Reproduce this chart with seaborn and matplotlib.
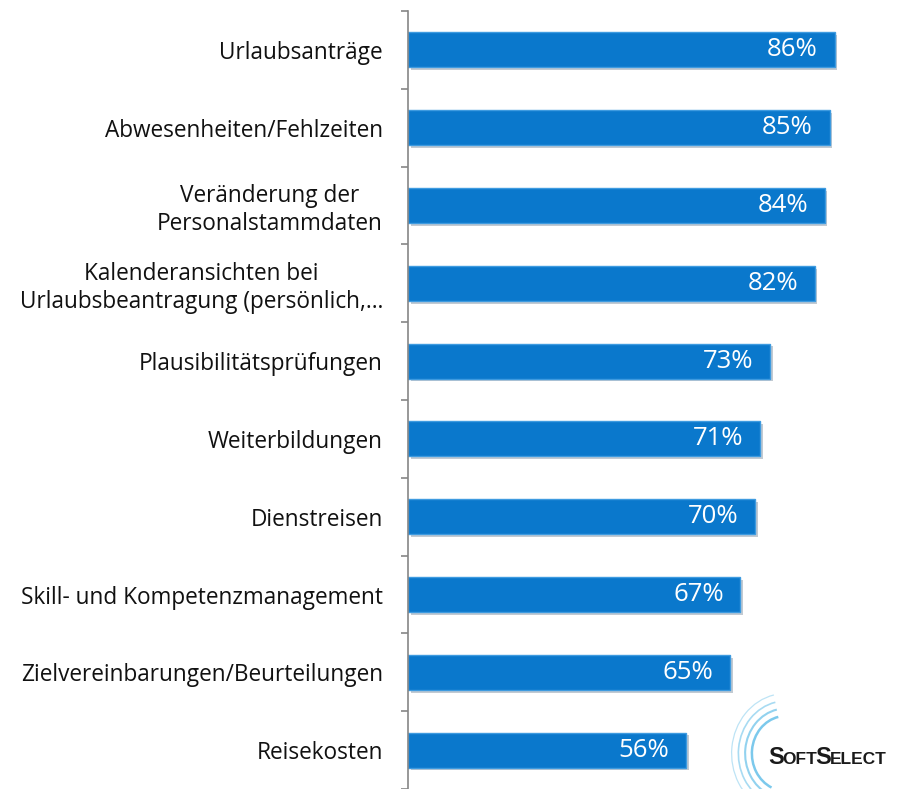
import matplotlib
matplotlib.use("Agg")
import matplotlib.pyplot as plt
import matplotlib.patheffects as pe
from matplotlib.patches import Arc
import pandas as pd
import seaborn as sns

# ---------------------------------
# DATA
# ---------------------------------

categories = [
    "Urlaubsanträge",
    "Abwesenheiten/Fehlzeiten",
    "Veränderung der\nPersonalstammdaten",
    "Kalenderansichten bei\nUrlaubsbeantragung (persönlich,…",
    "Plausibilitätsprüfungen",
    "Weiterbildungen",
    "Dienstreisen",
    "Skill- und Kompetenzmanagement",
    "Zielvereinbarungen/Beurteilungen",
    "Reisekosten",
]
values = [86, 85, 84, 82, 73, 71, 70, 67, 65, 56]

df = pd.DataFrame({"Kategorie": categories, "Anteil": values})

# ---------------------------------
# STYLE
# ---------------------------------

sns.set_style("white")
plt.rcParams["font.family"] = ["Open Sans", "DejaVu Sans"]

fig = plt.figure(figsize=(9.01, 7.89), dpi=100)
ax = fig.add_axes([408 / 901, 0.0, 1 - 408 / 901, 1 - 11 / 789])

sns.barplot(
    data=df,
    x="Anteil",
    y="Kategorie",
    color="#0A78CC",
    saturation=1,
    width=0.45,
    edgecolor="#3E9BE0",
    linewidth=1.0,
    ax=ax,
)

for bar in ax.patches:
    bar.set_path_effects([
        pe.SimplePatchShadow(offset=(2, -2), shadow_rgbFace="#9aa7b4", alpha=0.6),
        pe.Normal(),
    ])

# value labels inside the bars
for i, v in enumerate(values):
    ax.annotate(
        f"{v}%",
        xy=(v, i),
        xytext=(-12, 0),
        textcoords="offset points",
        ha="right",
        va="center",
        color="white",
        fontsize=18.5,
    )

# ---------------------------------
# AXES
# ---------------------------------

ax.set_xlim(0, 99.4)
ax.set_ylim(len(categories) - 0.5, -0.5)
ax.set_xlabel("")
ax.set_ylabel("")
ax.set_xticks([])

for side in ["top", "right", "bottom"]:
    ax.spines[side].set_visible(False)
ax.spines["left"].set_color("#868686")
ax.spines["left"].set_linewidth(1.2)

ax.set_yticks(range(len(categories)))
ax.set_yticklabels(categories, fontsize=16.3, color="#111111", multialignment="center")
ax.set_yticks([i - 0.5 for i in range(len(categories) + 1)], minor=True)
ax.tick_params(axis="y", which="major", length=0, pad=18)
ax.tick_params(axis="y", which="minor", length=5, color="#868686", width=1.2, left=True)

# ---------------------------------
# LOGO
# ---------------------------------

for k, r in enumerate([0.050, 0.060, 0.070, 0.080]):
    fig.add_artist(Arc((0.872, 0.045), r * 1.5, r * 1.9, theta1=100, theta2=250,
                       transform=fig.transFigure, color="#6ec3ea",
                       lw=1.8 - 0.3 * k, alpha=0.9 - 0.15 * k))

fig.canvas.draw()
renderer = fig.canvas.get_renderer()
x = 0.853
logo_font = ["Liberation Sans", "DejaVu Sans"]
for piece, size in [("S", 17), ("OFT", 12.5), ("S", 17), ("ELECT", 12.5)]:
    t = fig.text(x, 0.032, piece, fontsize=size, fontweight="bold", color="#1a1a1a",
                 ha="left", va="baseline", family=logo_font)
    bb = t.get_window_extent(renderer)
    x += bb.width / fig.bbox.width - 0.002

fig.savefig("out.png", dpi=100)
